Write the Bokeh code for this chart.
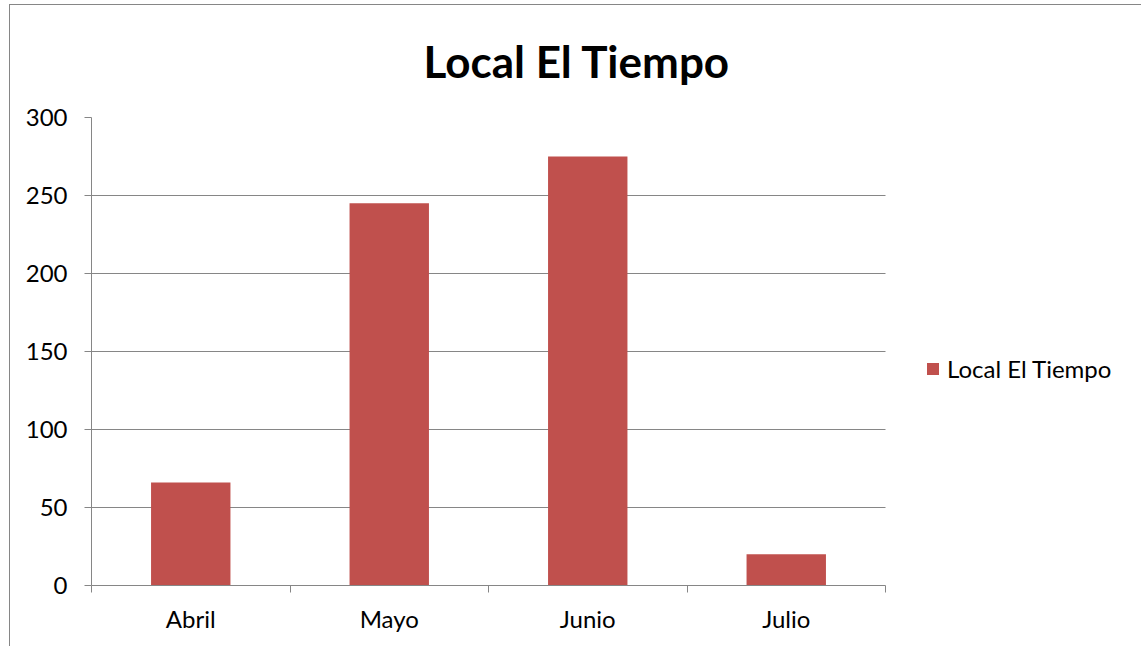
from bokeh.plotting import figure
from bokeh.models import (Range1d, FixedTicker, Legend, LegendItem, ColumnDataSource, Title)
from bokeh.embed import file_html
from bokeh.resources import INLINE

# ---- data ----
months = ["Abril", "Mayo", "Junio", "Julio"]
values = [66, 245, 275, 20]
series_name = "Local El Tiempo"
title_text = "Local El Tiempo"
y_ticks = [0, 50, 100, 150, 200, 250, 300]

BAR = "#C0504D"
GRAY = "#868686"
FONT = "Lato"

n = len(months)
centers = [i + 0.5 for i in range(n)]
edges = [i for i in range(n + 1)]

# layout (pixels): plot area of the categories is 794 px wide, the frame
# continues to the right edge so that the legend can sit there
W, H = 1141, 646
LEFT, TOP, BOTTOM = 91, 117, 61
cat_px = 794
frame_px = W - LEFT
x_end = n * frame_px / cat_px

src = ColumnDataSource(dict(x=centers, top=values, month=months))

p = figure(width=W, height=H, output_backend="svg", toolbar_location=None,
           x_range=Range1d(0, x_end), y_range=Range1d(0, 300),
           min_border_left=LEFT, min_border_right=0, min_border_top=TOP,
           min_border_bottom=BOTTOM, title=None)
# chart-area border (top and left edges), drawn behind the transparent canvas border
p.styles = {
    "background": (f"linear-gradient({GRAY},{GRAY}) 9px 4px / 100% 1px no-repeat, "
                   f"linear-gradient({GRAY},{GRAY}) 9px 4px / 1px 100% no-repeat, white"),
}
p.outline_line_color = None
p.background_fill_color = "white"
p.border_fill_color = None

r = p.vbar(x="x", top="top", width=0.4, bottom=0, source=src,
           fill_color=BAR, line_color=None)

# title
t = Title(text=title_text, align="left", offset=332, text_font=FONT,
          text_font_size="44px", text_font_style="bold", text_color="black",
          standoff=62)
p.add_layout(t, "above")

# x axis: labels at centers, ticks at category boundaries
xa = p.xaxis[0]
xa.bounds = (0, n)
xa.ticker = FixedTicker(ticks=centers, minor_ticks=edges)
xa.major_label_overrides = {c: m for c, m in zip(centers, months)}
xa.major_tick_line_color = None
xa.minor_tick_line_color = GRAY
xa.minor_tick_in = 0
xa.minor_tick_out = 7
xa.axis_line_color = GRAY
xa.major_label_text_font = FONT
xa.major_label_text_font_size = "24px"
xa.major_label_text_color = "black"
xa.major_label_standoff = 11

ya = p.yaxis[0]
ya.ticker = FixedTicker(ticks=y_ticks)
ya.minor_tick_line_color = None
ya.major_tick_line_color = GRAY
ya.major_tick_in = 0
ya.major_tick_out = 7
ya.axis_line_color = GRAY
ya.major_label_text_font = FONT
ya.major_label_text_font_size = "24px"
ya.major_label_text_color = "black"
ya.major_label_standoff = 17

p.xgrid.grid_line_color = None
p.ygrid.grid_line_color = GRAY
p.ygrid.grid_line_width = 1
p.ygrid.cross_bounds = (0, n)

legend = Legend(items=[LegendItem(label=series_name, renderers=[r])],
                location=(834, 202), margin=0, padding=10,
                glyph_width=15, glyph_height=15, label_standoff=7,
                label_text_font=FONT, label_text_font_size="24px",
                label_text_color="black",
                border_line_color=None, background_fill_alpha=0)
p.add_layout(legend, "center")

open("out.html", "w").write(file_html(p, INLINE))
